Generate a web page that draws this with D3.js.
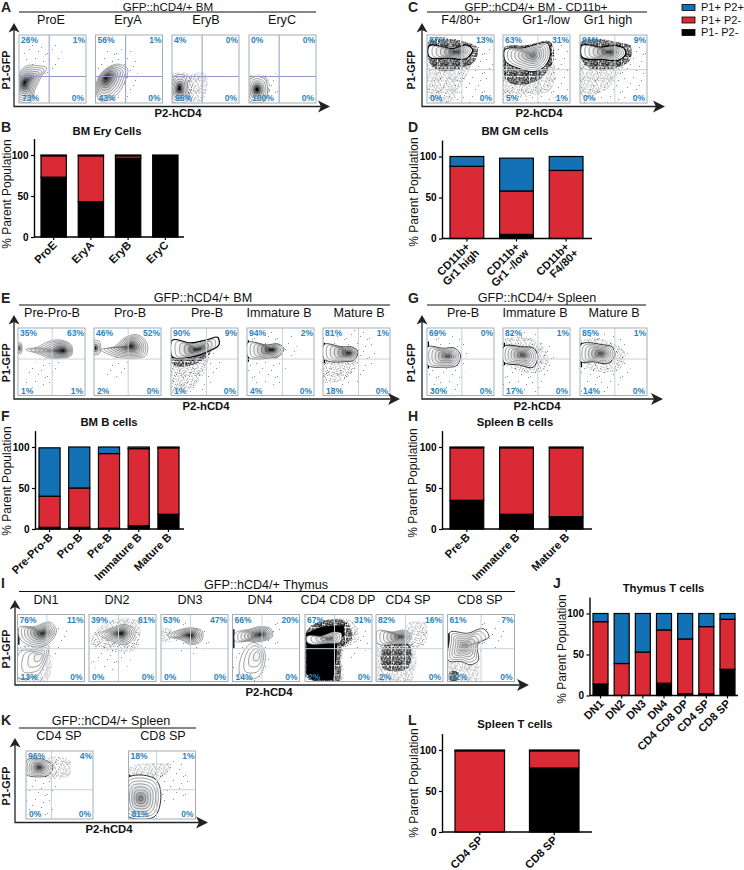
<!DOCTYPE html>
<html>
<head>
<meta charset="utf-8">
<script src="https://cdn.jsdelivr.net/npm/d3@7"></script>
<style>
  html, body { margin: 0; padding: 0; background: #fff; }
  svg { display: block; font-family: "Liberation Sans", Arial, sans-serif; }
</style>
</head>
<body>
<div id="figure"></div>
<script>
// ---- bar chart values: [P1- P2-, P1+ P2-, P1+ P2+]
var seriesKeys = ['neg', 'red', 'blue'];
var seriesNames = ['P1+ P2+', 'P1+ P2-', 'P1- P2-'];

var eryCats = ['ProE', 'EryA', 'EryB', 'EryC'];
var eryVals = [[73, 26, 1], [43, 56, 1], [96, 3, 1], [100, 0, 0]];
var gmCats = ['CD11b+\nGr1 high', 'CD11b+\nGr1 -/low', 'CD11b+\nF4/80+'];
var gmVals = [[0, 88, 12], [5, 53, 40], [0, 83, 17]];
var bmBCats = ['Pre-Pro-B', 'Pro-B', 'Pre-B', 'Immature B', 'Mature B'];
var bmBVals = [[2, 38, 59], [2, 48, 50], [1, 91, 8], [4, 94, 2], [18, 81, 1]];
var spBCats = ['Pre-B', 'Immature B', 'Mature B'];
var spBVals = [[35, 64, 1], [18, 81, 1], [15, 84, 1]];
var thyCats = ['DN1', 'DN2', 'DN3', 'DN4', 'CD4 CD8 DP', 'CD4 SP', 'CD8 SP'];
var thyVals = [[14, 76, 10], [0, 39, 61], [0, 53, 47], [15, 65, 20], [2, 67, 31], [2, 82, 16], [32, 61, 7]];
var spTCats = ['CD4 SP', 'CD8 SP'];
var spTVals = [[0, 99, 1], [78, 21, 1]];

// ---- flow plots: quadrant percents [top left, top right, bottom left, bottom right],
// gate [x, y], clouds [density, outline], contours [outline, focus, levels, peak, rim].
// All in plot units, 0-100 on both axes
var rowALabels = ['ProE', 'EryA', 'EryB', 'EryC'];
var rowAPct = [[26, 1, 73, 0], [56, 1, 43, 0], [4, 0, 96, 0], [0, 0, 100, 0]];
var rowAGate = [[45, 39], [45, 39], [45, 39], [45, 39]];
var rowAClouds = [
    [[1, [[8, 50], [62, 50], [62, 80], [10, 80]]]],
    [[1, [[0, 8], [52, 8], [55, 75], [0, 75]]]],
    [[2, [[1, 3], [24, 3], [24, 43], [1, 43]]], [2, [[24, 3], [44, 3], [48, 45], [28, 42]]]],
    [[2, [[1, 3], [26, 3], [26, 40], [1, 40]]], [1, [[20, 5], [38, 5], [38, 45], [20, 45]]]]
];
var rowAContours = [
    [[[[1, 2], [18, 2], [24, 20], [33, 38], [41, 52], [28, 55], [10, 54], [1, 45]], [8, 30], 9, 0.95, 0]],
    [[[[3, 35], [15, 50], [35, 57], [48, 50], [45, 35], [38, 20], [22, 5], [8, 3]], [15, 38], 9, 0.95, 0]],
    [[[[1, 2], [22, 2], [23, 25], [20, 40], [5, 40], [1, 30]], [11, 22], 6, 1, 0]],
    [[[[2, 2], [22, 2], [22, 36], [12, 39], [3, 36]], [12, 20], 6, 1, 0]]
];

var rowCLabels = ['F4/80+', 'Gr1-/low', 'Gr1 high'];
var rowCPct = [[87, 13, 0, 0], [63, 31, 5, 1], [91, 9, 0, 0]];
var rowCGate = [[52, 49], [52, 49], [52, 49]];
var rowCClouds = [
    [[1, [[0, 3], [78, 3], [88, 88], [70, 90], [0, 70]]], [2, [[0, 70], [70, 70], [62, 45], [50, 25], [42, 5], [2, 5]]], [3, [[0, 86], [60, 89], [75, 82], [72, 62], [55, 52], [10, 52], [0, 70]]]],
    [[1, [[0, 3], [88, 3], [88, 88], [70, 90], [0, 60]]], [2, [[0, 70], [76, 60], [72, 20], [40, 10], [0, 10]]], [3, [[0, 80], [35, 85], [72, 89], [76, 65], [62, 42], [45, 30], [5, 33], [0, 60]]]],
    [[1, [[0, 3], [78, 3], [88, 88], [70, 90], [0, 70]]], [2, [[0, 70], [70, 70], [58, 40], [40, 20], [2, 10]]], [3, [[0, 87], [58, 89], [75, 84], [74, 62], [55, 52], [10, 54], [0, 70]]]]
];
var rowCContours = [
    [[[[2, 82], [40, 80], [60, 85], [68, 79], [60, 66], [35, 66], [2, 70]], [45, 75], 7, 0.8, 1.2]],
    [[[[2, 77], [30, 81], [68, 86], [70, 68], [60, 52], [45, 46], [30, 49], [2, 65]], [45, 70], 8, 0.55, 1]],
    [[[[2, 84], [30, 82], [55, 84], [66, 80], [68, 72], [60, 64], [35, 64], [2, 69]], [45, 75], 7, 0.8, 1.2]]
];

var rowELabels = ['Pre-Pro-B', 'Pro-B', 'Pre-B', 'Immature B', 'Mature B'];
var rowEPct = [[35, 63, 1, 1], [46, 52, 2, 0], [90, 9, 1, 0], [94, 2, 4, 0], [81, 1, 18, 0]];
var rowEGate = [[51, 54], [51, 54], [53, 54], [53, 54], [53, 54]];
var rowEClouds = [
    [[1, [[12, 15], [50, 15], [62, 50], [35, 55]]]],
    [[1, [[15, 30], [45, 30], [60, 50], [25, 55]]]],
    [[1, [[0, 3], [50, 8], [75, 60], [0, 60]]], [2, [[0, 58], [55, 58], [45, 25], [20, 5], [0, 5]]], [3, [[0, 62], [60, 64], [40, 48], [2, 47]]]],
    [[1, [[0, 20], [55, 20], [62, 50], [72, 55], [68, 88], [0, 85]]], [4, [[1, 50], [3, 50], [3, 82], [1, 82]]]],
    [[1, [[0, 8], [50, 15], [78, 55], [72, 88], [0, 85]]], [2, [[0, 50], [50, 50], [35, 25], [0, 22]]], [4, [[1, 48], [3, 48], [3, 78], [1, 78]]]]
];
var rowEContours = [
    [[[[0, 62], [4, 62], [6, 70], [4, 78], [0, 78]], [1, 70], 4, 0.9, 0], [[[12, 68], [30, 62], [45, 56], [62, 55], [80, 60], [80, 74], [65, 82], [45, 80], [30, 72]], [68, 66], 9, 1, 0]],
    [[[[0, 60], [8, 62], [10, 70], [8, 80], [0, 82]], [2, 70], 4, 0.9, 0], [[[10, 68], [30, 58], [55, 55], [78, 60], [78, 80], [65, 90], [45, 85], [30, 72]], [55, 73], 9, 0.9, 0]],
    [[[[2, 82], [30, 78], [55, 83], [70, 86], [72, 76], [55, 65], [30, 57], [2, 57]], [40, 68], 6, 0.85, 1.2]],
    [[[[1, 78], [30, 75], [48, 76], [55, 70], [50, 60], [30, 55], [1, 58]], [38, 68], 7, 0.95, 0.6]],
    [[[[1, 75], [30, 72], [43, 72], [52, 66], [48, 54], [30, 50], [1, 55]], [40, 63], 7, 0.85, 0.7]]
];

var rowGLabels = ['Pre-B', 'Immature B', 'Mature B'];
var rowGPct = [[69, 0, 30, 0], [82, 1, 17, 0], [85, 1, 14, 0]];
var rowGGate = [[52, 54], [52, 54], [52, 54]];
var rowGClouds = [
    [[1, [[0, 5], [42, 5], [62, 55], [60, 80], [0, 82]]], [4, [[1, 40], [3, 40], [3, 80], [1, 80]]]],
    [[1, [[0, 5], [55, 5], [78, 55], [60, 88], [0, 85]]], [2, [[0, 50], [65, 42], [68, 55], [55, 78], [0, 78]]], [4, [[1, 45], [3, 45], [3, 78], [1, 78]]]],
    [[1, [[0, 5], [50, 10], [78, 55], [60, 85], [0, 85]]], [2, [[0, 48], [62, 42], [68, 62], [50, 78], [0, 78]]], [4, [[1, 42], [3, 42], [3, 78], [1, 78]]]]
];
var rowGContours = [
    [[[[1, 72], [25, 70], [42, 70], [50, 60], [45, 45], [25, 42], [1, 45]], [32, 58], 7, 0.7, 0.7]],
    [[[[1, 72], [30, 72], [46, 70], [52, 58], [45, 42], [25, 45], [1, 50]], [30, 60], 7, 0.7, 0.9]],
    [[[[1, 75], [35, 75], [48, 72], [52, 60], [42, 48], [20, 50], [1, 50]], [32, 62], 7, 0.7, 0.8]]
];

var rowILabels = ['DN1', 'DN2', 'DN3', 'DN4', 'CD4 CD8 DP', 'CD4 SP', 'CD8 SP'];
var rowIPct = [[76, 11, 13, 0], [39, 61, 0, 0], [53, 47, 0, 0], [66, 20, 14, 0], [67, 31, 2, 0], [82, 16, 2, 0], [61, 7, 32, 0]];
var rowIGate = [[44, 49], [44, 49], [44, 49], [44, 49], [44, 49], [44, 49], [50, 49]];
var rowIClouds = [
    [[2, [[1, 3], [45, 3], [45, 50], [1, 50]]], [1, [[45, 35], [70, 45], [68, 85], [50, 90]]], [4, [[1, 55], [3, 55], [3, 78], [1, 78]]]],
    [[1, [[5, 25], [60, 25], [60, 55], [5, 55]]], [2, [[2, 62], [72, 50], [75, 88], [15, 82]]]],
    [[2, [[0, 60], [15, 60], [15, 78], [0, 78]]], [1, [[30, 38], [55, 38], [72, 60], [65, 85], [30, 85]]]],
    [[1, [[0, 5], [45, 5], [52, 50], [0, 60]]], [1, [[45, 55], [70, 55], [70, 88], [50, 88]]], [4, [[1, 50], [3, 50], [3, 78], [1, 78]]]],
    [[1, [[50, 30], [90, 45], [90, 88], [55, 88]]], [2, [[0, 8], [55, 0], [60, 50], [80, 62], [74, 86], [10, 84]]], [3, [[0, 8], [50, 0], [56, 50], [70, 64], [65, 86], [10, 84]]], [4, [[2, 12], [10, 2], [42, 2], [47, 35], [48, 58], [58, 68], [58, 84], [25, 82], [2, 72]]]],
    [[2, [[50, 50], [72, 55], [72, 88], [50, 88]]], [2, [[0, 0], [52, 0], [55, 55], [0, 58]]], [3, [[10, 20], [48, 20], [50, 54], [12, 54]]]],
    [[1, [[48, 45], [82, 50], [80, 88], [48, 88]]], [2, [[0, 0], [45, 0], [45, 28], [0, 28]]], [3, [[3, 2], [15, 2], [15, 14], [3, 14]]], [4, [[1, 38], [3, 38], [3, 72], [1, 72]]]]
];
var rowIContours = [
    [[[[5, 45], [30, 48], [45, 55], [40, 25], [30, 10], [15, 5], [3, 5]], [34, 38], 4, 0.1, 0], [[[3, 65], [2, 80], [25, 82], [50, 88], [58, 78], [50, 60], [35, 52], [15, 55]], [38, 72], 8, 0.85, 0]],
    [[[[15, 70], [35, 60], [50, 55], [65, 62], [68, 78], [55, 85], [35, 80]], [48, 72], 8, 1, 0]],
    [[[[10, 68], [30, 62], [45, 55], [60, 60], [62, 75], [48, 80], [30, 78]], [44, 69], 8, 1, 0]],
    [[[[15, 5], [35, 5], [45, 50], [30, 58], [20, 50]], [38, 40], 4, 0.1, 0], [[[3, 70], [25, 78], [45, 82], [58, 78], [60, 68], [45, 60], [25, 60], [3, 62]], [43, 70], 8, 0.9, 0]],
    [[[[2, 65], [25, 68], [45, 74], [54, 72], [53, 60], [35, 57], [2, 62]], [38, 64], 5, 0.65, 0]],
    [[[[2, 75], [25, 74], [45, 76], [52, 70], [50, 60], [30, 56], [2, 58]], [38, 67], 7, 0.75, 0]],
    [[[[3, 65], [3, 72], [30, 72], [55, 78], [62, 68], [45, 55], [45, 30], [35, 25], [20, 30], [3, 30]], [25, 52], 7, 0.45, 0.7]]
];

var rowKLabels = ['CD4 SP', 'CD8 SP'];
var rowKPct = [[96, 4, 0, 0], [18, 1, 81, 0]];
var rowKGate = [[38, 43], [42, 43]];
var rowKClouds = [
    [[1, [[0, 5], [35, 5], [40, 60], [0, 60]]], [2, [[28, 62], [66, 66], [66, 85], [30, 88]]], [4, [[1, 66], [3, 66], [3, 86], [1, 86]]]],
    [[1, [[40, 30], [85, 30], [85, 80], [60, 85]]], [2, [[0, 60], [50, 60], [65, 80], [40, 82], [0, 72]]], [4, [[1, 4], [3, 4], [3, 65], [1, 65]]]]
];
var rowKContours = [
    [[[[1, 86], [30, 86], [40, 78], [35, 66], [15, 62], [1, 65]], [20, 76], 7, 0.8, 0.6]],
    [[[[1, 3], [38, 3], [38, 60], [30, 63], [1, 62]], [18, 30], 8, 0.55, 0.8]]
];

// hand placed dots for the stipple texture, on a 23 x 19 tile
var stippleDots = [[3, 2], [15, 13], [9, 7], [20, 4], [1, 15], [12, 1], [18, 9], [6, 11], [22, 16], [10, 17],
    [16, 5], [4, 7], [13, 10], [8, 14], [20, 13], [1, 10], [7, 3], [17, 17], [11, 4], [22, 8],
    [5, 16], [14, 7], [19, 1], [2, 5], [9, 11], [15, 16], [21, 11], [6, 18], [12, 13], [18, 14]];

var colors = { neg: '#000', red: '#da2a35', blue: '#1272b5' };
var pctBlue = '#2b83bd';
var W = 744, H = 870;

var svg = d3.select('#figure').append('svg').attr('width', W).attr('height', H).attr('viewBox', '0 0 ' + W + ' ' + H);
var defs = svg.append('defs');

// stipple patterns, density 1 to 3: [id, dots used, tile scale, dot size]
[[1, 9, 1, 0.7], [2, 30, 0.62, 1.25], [3, 30, 0.5, 3]].forEach(function(s) {
    var p = defs.append('pattern')
        .attr('id', 'stipple' + s[0])
        .attr('patternUnits', 'userSpaceOnUse')
        .attr('patternTransform', 'scale(' + s[2] + ')')
        .attr('width', 23)
        .attr('height', 19);
    p.selectAll('rect').data(stippleDots.slice(0, s[1])).enter().append('rect')
        .attr('x', function(d) { return d[0]; })
        .attr('y', function(d) { return d[1]; })
        .attr('width', s[3])
        .attr('height', s[3])
        .attr('fill', '#111');
});

function label(x, y, str, size, weight, anchor, fill, rotate) {
    var t = svg.append('text')
        .attr('font-size', size)
        .attr('font-weight', weight || 'normal')
        .attr('text-anchor', anchor || 'start')
        .attr('fill', fill || '#111')
        .text(str);
    if (rotate) t.attr('transform', 'translate(' + x + ',' + y + ') rotate(' + rotate + ')');
    else t.attr('x', x).attr('y', y);
    return t;
}

// L shaped axis with arrow heads around a row of flow plots
function arrowAxes(x, top, y, right) {
    svg.append('path')
        .attr('d', 'M' + x + ',' + (top + 6) + 'V' + y + 'H' + (right - 6))
        .attr('fill', 'none')
        .attr('stroke', '#222')
        .attr('stroke-width', 1.3);
    svg.append('path')
        .attr('d', 'M' + x + ',' + top + 'l5.5,9.5l-5.5,-2.5l-5.5,2.5z')
        .attr('fill', '#222');
    svg.append('path')
        .attr('d', 'M' + right + ',' + y + 'l-12,-6l3,6l-3,6z')
        .attr('fill', '#222');
}

var plotCount = 0;

function flowPlot(x0, y0, w, h, pct, gate, clouds, contours, gateColor) {
    var id = 'clip' + (plotCount++);
    var x = d3.scaleLinear().domain([0, 100]).range([x0, x0 + w]);
    var y = d3.scaleLinear().domain([0, 100]).range([y0 + h, y0]);
    var outline = d3.line().x(function(d) { return x(d[0]); }).y(function(d) { return y(d[1]); })
        .curve(d3.curveCatmullRomClosed.alpha(1));
    var solid = d3.line().x(function(d) { return x(d[0]); }).y(function(d) { return y(d[1]); })
        .curve(d3.curveLinearClosed);

    defs.append('clipPath').attr('id', id).append('rect')
        .attr('x', x0).attr('y', y0).attr('width', w).attr('height', h);
    var g = svg.append('g').attr('clip-path', 'url(#' + id + ')');

    clouds.forEach(function(c) {
        g.append('path')
            .attr('d', c[0] == 4 ? solid(c[1]) : outline(c[1]))
            .attr('fill', c[0] == 4 ? '#000' : 'url(#stipple' + c[0] + ')');
    });

    contours.forEach(function(c) {
        var levels = c[2], peak = c[3], rim = c[4];
        d3.range(levels).forEach(function(k) {
            var s = 1 - k / levels;
            var pts = c[0].map(function(p) {
                return [c[1][0] + (p[0] - c[1][0]) * s, c[1][1] + (p[1] - c[1][1]) * s];
            });
            var t = Math.pow(k / (levels - 1), 1.7) * peak;
            g.append('path')
                .attr('d', outline(pts))
                .attr('fill', d3.interpolateGreys(t))
                .attr('stroke', k == 0 && rim ? '#000' : '#444')
                .attr('stroke-width', k == 0 && rim ? rim : 0.5);
        });
    });

    // quadrant gates
    g.append('line').attr('x1', x(gate[0])).attr('x2', x(gate[0])).attr('y1', y0).attr('y2', y0 + h)
        .attr('stroke', gateColor).attr('stroke-width', 1);
    g.append('line').attr('x1', x0).attr('x2', x0 + w).attr('y1', y(gate[1])).attr('y2', y(gate[1]))
        .attr('stroke', gateColor).attr('stroke-width', 1);

    svg.append('rect')
        .attr('x', x0).attr('y', y0).attr('width', w).attr('height', h)
        .attr('fill', 'none').attr('stroke', '#a4adb5').attr('stroke-width', 1);

    label(x0 + 2, y0 + 8, pct[0] + '%', 8.5, 'bold', 'start', pctBlue);
    label(x0 + w - 1, y0 + 8, pct[1] + '%', 8.5, 'bold', 'end', pctBlue);
    label(x0 + 3, y0 + h - 2, pct[2] + '%', 8.5, 'bold', 'start', pctBlue);
    label(x0 + w - 2, y0 + h - 2, pct[3] + '%', 8.5, 'bold', 'end', pctBlue);
}

function flowRow(o) {
    // the top row sits against the page edge, so its title runs a little smaller
    var titleSize = o.top < 50 ? 11.6 : 12.6;
    var titleY = o.top < 50 ? o.top - 24.5 : o.top - 26;
    label(o.titleX, titleY, o.title, titleSize, 'normal', 'middle');
    svg.append('line')
        .attr('x1', o.lineX[0]).attr('x2', o.lineX[1]).attr('y1', o.top - 23).attr('y2', o.top - 23)
        .attr('stroke', '#111').attr('stroke-width', 1.2);
    o.labels.forEach(function(d, i) {
        label(o.labelX[i], o.top - 11, d, 12.6, 'normal', 'middle');
        flowPlot(o.xs[i], o.top, o.w, o.h, o.pct[i], o.gate[i], o.clouds[i], o.contours[i], o.gateColor);
    });
    arrowAxes(o.axisX, o.axisTop, o.top + o.h + 3.5, o.axisRight);
    label(o.xTitleX, o.top + o.h + 14, 'P2-hCD4', 11.3, 'bold', 'middle');
    label(o.yTitleX, o.top + o.h / 2 + 1, 'P1-GFP', 10.8, 'bold', 'middle', '#111', -90);
}

function stackedBars(o) {
    var x = d3.scaleBand().domain(o.cats).range(o.bars).paddingInner(o.pad).paddingOuter(0);
    var y = d3.scaleLinear().domain([0, 120]).range([o.bottom, o.bottom - 98.4]);
    var rows = o.cats.map(function(c, i) {
        return { cat: c, neg: o.vals[i][0], red: o.vals[i][1], blue: o.vals[i][2] };
    });
    var stacked = d3.stack().keys(seriesKeys)(rows);

    svg.append('g').selectAll('g').data(stacked).enter().append('g')
        .attr('fill', function(d) { return colors[d.key]; })
        .selectAll('rect')
        .data(function(d) { return d.filter(function(v) { return v[1] > v[0]; }); })
        .enter().append('rect')
        .attr('x', function(d) { return x(d.data.cat); })
        .attr('y', function(d) { return y(d[1]); })
        .attr('width', x.bandwidth())
        .attr('height', function(d) { return y(d[0]) - y(d[1]); })
        .attr('stroke', '#000')
        .attr('stroke-width', 1.2);

    var yAxis = svg.append('g')
        .attr('transform', 'translate(' + o.axisX + ',0)')
        .call(d3.axisLeft(y).tickValues([0, 50, 100]).tickSize(3).tickSizeOuter(0));
    yAxis.select('.domain').attr('stroke-width', 1.4).attr('stroke', '#000');
    yAxis.selectAll('.tick line').attr('stroke-width', 1.2).attr('stroke', '#000');
    yAxis.selectAll('.tick text').attr('font-size', 10).attr('font-weight', 'bold').attr('font-family', null).attr('dx', 0.5);

    var xAxis = svg.append('g')
        .attr('transform', 'translate(0,' + o.bottom + ')')
        .call(d3.axisBottom(x).tickSize(3).tickSizeOuter(0).tickFormat(''));
    xAxis.select('.domain').attr('d', 'M' + o.axisX + ',0H' + o.axisEnd).attr('stroke-width', 1.4).attr('stroke', '#000');
    xAxis.selectAll('.tick line').attr('stroke-width', 1.2).attr('stroke', '#000');

    o.cats.forEach(function(c) {
        var g = svg.append('g')
            .attr('transform', 'translate(' + (x(c) + x.bandwidth() / 2 + 1) + ',' + (o.bottom + 6) + ') rotate(-45)');
        c.split('\n').forEach(function(line, i) {
            g.append('text')
                .attr('x', i ? 2 : 0)
                .attr('y', i * 11 + 4)
                .attr('text-anchor', 'end')
                .attr('font-size', 11.2)
                .attr('font-weight', 'bold')
                .attr('fill', '#111')
                .text(line);
        });
    });

    label(o.titleX, o.titleY, o.title, 11.3, 'bold', 'middle');
    label(o.yTitleX, o.yTitleY, '% Parent Population', 12, 'normal', 'middle', '#111', -90);
}

// ---- top row
flowRow({ title: 'GFP::hCD4/+ BM', titleX: 168, lineX: [19, 316], top: 35, w: 67, h: 68, xs: [19, 95.5, 172, 249],
    labelX: [51, 128, 206, 282], labels: rowALabels, pct: rowAPct, gate: rowAGate, clouds: rowAClouds, contours: rowAContours,
    gateColor: '#8c9cc8', axisX: 14, axisTop: 23, axisRight: 330, xTitleX: 178, yTitleX: 9.5 });
flowRow({ title: 'GFP::hCD4/+ BM - CD11b+', titleX: 536, lineX: [427, 647], top: 35, w: 67, h: 68, xs: [427, 503, 580],
    labelX: [461, 546, 608], labels: rowCLabels, pct: rowCPct, gate: rowCGate, clouds: rowCClouds, contours: rowCContours,
    gateColor: '#c6d2dc', axisX: 422, axisTop: 23, axisRight: 665, xTitleX: 539, yTitleX: 415 });

// legend
seriesNames.forEach(function(name, i) {
    svg.append('rect')
        .attr('x', 682).attr('y', 4.5 + i * 12.5).attr('width', 13).attr('height', 6)
        .attr('fill', colors[seriesKeys[2 - i]]).attr('stroke', '#000').attr('stroke-width', 0.8);
    label(701, 11 + i * 12.5, name, 11);
});

stackedBars({ cats: eryCats, vals: eryVals, bars: [41, 178], pad: 0.32, bottom: 237, axisX: 34, axisEnd: 184,
    title: 'BM Ery Cells', titleX: 107, titleY: 135, yTitleX: 11, yTitleY: 194 });
stackedBars({ cats: gmCats, vals: gmVals, bars: [450, 583], pad: 0.32, bottom: 238.5, axisX: 442, axisEnd: 592,
    title: 'BM GM cells', titleX: 515, titleY: 135, yTitleX: 418, yTitleY: 192 });

// ---- B cell rows
flowRow({ title: 'GFP::hCD4/+ BM', titleX: 203, lineX: [19, 390], top: 328, w: 67, h: 67.5, xs: [18, 94, 171, 247, 323],
    labelX: [52, 130, 207, 279, 359], labels: rowELabels, pct: rowEPct, gate: rowEGate, clouds: rowEClouds, contours: rowEContours,
    gateColor: '#c6d2dc', axisX: 14, axisTop: 315, axisRight: 400, xTitleX: 206, yTitleX: 9.5 });
flowRow({ title: 'GFP::hCD4/+ Spleen', titleX: 537, lineX: [427, 646], top: 328, w: 67, h: 67.5, xs: [427, 503, 580],
    labelX: [463, 535, 614], labels: rowGLabels, pct: rowGPct, gate: rowGGate, clouds: rowGClouds, contours: rowGContours,
    gateColor: '#c6d2dc', axisX: 422, axisTop: 315, axisRight: 663, xTitleX: 537, yTitleX: 415 });

stackedBars({ cats: bmBCats, vals: bmBVals, bars: [39, 179], pad: 0.29, bottom: 529, axisX: 35, axisEnd: 184,
    title: 'BM B cells', titleX: 109, titleY: 426, yTitleX: 10.5, yTitleY: 481 });
stackedBars({ cats: spBCats, vals: spBVals, bars: [450, 583], pad: 0.32, bottom: 529, axisX: 442, axisEnd: 592,
    title: 'Spleen B cells', titleX: 515, titleY: 426, yTitleX: 417, yTitleY: 483 });

// ---- T cell rows
flowRow({ title: 'GFP::hCD4/+ Thymus', titleX: 266, lineX: [19, 515], top: 614.5, w: 67, h: 67, xs: [17.5, 89, 161, 232.5, 305, 376, 447.5],
    labelX: [46, 117, 190, 260, 338, 408, 480], labels: rowILabels, pct: rowIPct, gate: rowIGate, clouds: rowIClouds, contours: rowIContours,
    gateColor: '#c6d2dc', axisX: 15, axisTop: 600, axisRight: 529, xTitleX: 269, yTitleX: 9.5 });
flowRow({ title: 'GFP::hCD4/+ Spleen', titleX: 111, lineX: [19, 196], top: 751, w: 67, h: 68, xs: [26, 128.5],
    labelX: [59, 163], labels: rowKLabels, pct: rowKPct, gate: rowKGate, clouds: rowKClouds, contours: rowKContours,
    gateColor: '#c6d2dc', axisX: 15, axisTop: 738, axisRight: 208, xTitleX: 109, yTitleX: 9.5 });

stackedBars({ cats: thyCats, vals: thyVals, bars: [593, 735], pad: 0.29, bottom: 695.5, axisX: 589.5, axisEnd: 738,
    title: 'Thymus T cells', titleX: 663.5, titleY: 592, yTitleX: 566, yTitleY: 649 });
stackedBars({ cats: spTCats, vals: spTVals, bars: [455, 579], pad: 0.335, bottom: 832, axisX: 442, axisEnd: 592,
    title: 'Spleen T cells', titleX: 515, titleY: 728, yTitleX: 418, yTitleY: 783 });

// ---- panel letters
var panelLetters = ['A', 'B', 'C', 'D', 'E', 'F', 'G', 'H', 'I', 'J', 'K', 'L'];
var letterPos = [[1, 12], [1, 132], [408, 12], [408, 132], [1, 303], [1, 421], [408, 303], [408, 421], [1, 588], [553, 588], [1, 725], [408, 725]];
panelLetters.forEach(function(d, i) {
    label(letterPos[i][0], letterPos[i][1], d, 14, 'bold', 'start', '#222');
});
</script>
</body>
</html>
